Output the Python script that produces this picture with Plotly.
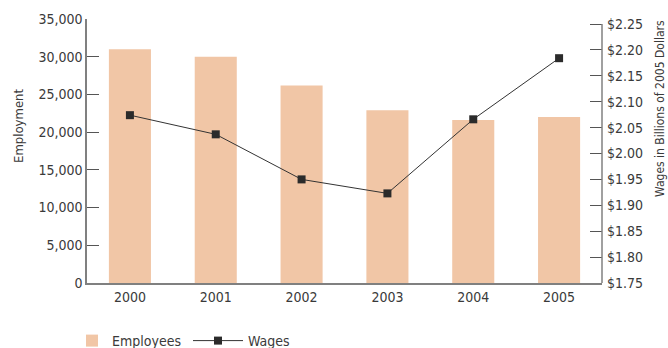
import plotly.graph_objects as go

years = ["2000", "2001", "2002", "2003", "2004", "2005"]
employees = [31000, 30000, 26200, 22900, 21600, 22000]
wages = [2.074, 2.037, 1.950, 1.923, 2.066, 2.184]

left_ticks = [0, 5000, 10000, 15000, 20000, 25000, 30000, 35000]
right_ticks = [1.75, 1.80, 1.85, 1.90, 1.95, 2.00, 2.05, 2.10, 2.15, 2.20, 2.25]

FONT = "DejaVu Sans Condensed, Liberation Sans Narrow, sans-serif"
TXT = "#3a3a3a"
AX = "#808080"

W, H = 668, 348
L, R, T, B = 87, 66, 19, 65
PW, PH = W - L - R, H - T - B


def px_x(x):
    return (x - L) / PW


def px_y(y):
    return (H - B - y) / PH


fig = go.Figure()
fig.add_trace(go.Bar(x=years, y=employees, name="Employees",
                     marker=dict(color="#F1C6A6", line=dict(width=0)),
                     yaxis="y", legend="legend"))
fig.add_trace(go.Scatter(x=years, y=wages, name="Wages", mode="lines+markers",
                         line=dict(color="#333333", width=1),
                         marker=dict(symbol="square", size=8, color="#2b2b2b"),
                         yaxis="y2", legend="legend2"))

# right axis: 2.25 sits slightly below the top of the left axis
top_extra = 0.5 * (283 - 19) / (283 - 24)

leg_common = dict(orientation="h", yanchor="middle", xanchor="left",
                  font=dict(size=14, color=TXT), bgcolor="rgba(0,0,0,0)")

fig.update_layout(
    width=W, height=H,
    margin=dict(l=L, r=R, t=T, b=B, autoexpand=False),
    plot_bgcolor="white", paper_bgcolor="white",
    bargap=0.51,
    font=dict(family=FONT, size=14, color=TXT),
    showlegend=True,
    legend=dict(x=px_x(72), y=px_y(341), itemwidth=30, **leg_common),
    legend2=dict(x=px_x(188), y=px_y(341), itemwidth=50, **leg_common),
    xaxis=dict(showline=True, linecolor=AX, linewidth=1.5, ticks="",
               showgrid=False, tickfont=dict(size=14)),
    yaxis=dict(range=[0, 35000], tickvals=left_ticks, tickformat=",",
               showline=True, linecolor=AX, linewidth=1.5,
               ticks="inside", ticklen=12, tickcolor="#555", tickwidth=1,
               showgrid=False, zeroline=False),
    yaxis2=dict(overlaying="y", side="right", range=[1.75, 1.75 + top_extra],
                tickvals=right_ticks, tickformat="$.2f",
                showline=False, ticks="inside", ticklen=12, tickcolor="#555",
                tickwidth=1, showgrid=False, zeroline=False,
                ticklabelstandoff=4),
    annotations=[
        dict(text="Employment", textangle=-90, xref="paper", yref="paper",
             x=px_x(18), y=px_y(126), showarrow=False,
             xanchor="center", yanchor="middle", font=dict(size=13, color=TXT)),
        dict(text="Wages in Billions of 2005 Dollars", textangle=-90,
             xref="paper", yref="paper", x=px_x(660), y=px_y(109),
             showarrow=False, xanchor="center", yanchor="middle",
             font=dict(size=12, color=TXT)),
    ],
)
fig.add_shape(type="line", xref="paper", yref="y2", x0=1, x1=1, y0=1.75, y1=2.25,
              line=dict(color=AX, width=1.5))

fig.write_html("out.html")
